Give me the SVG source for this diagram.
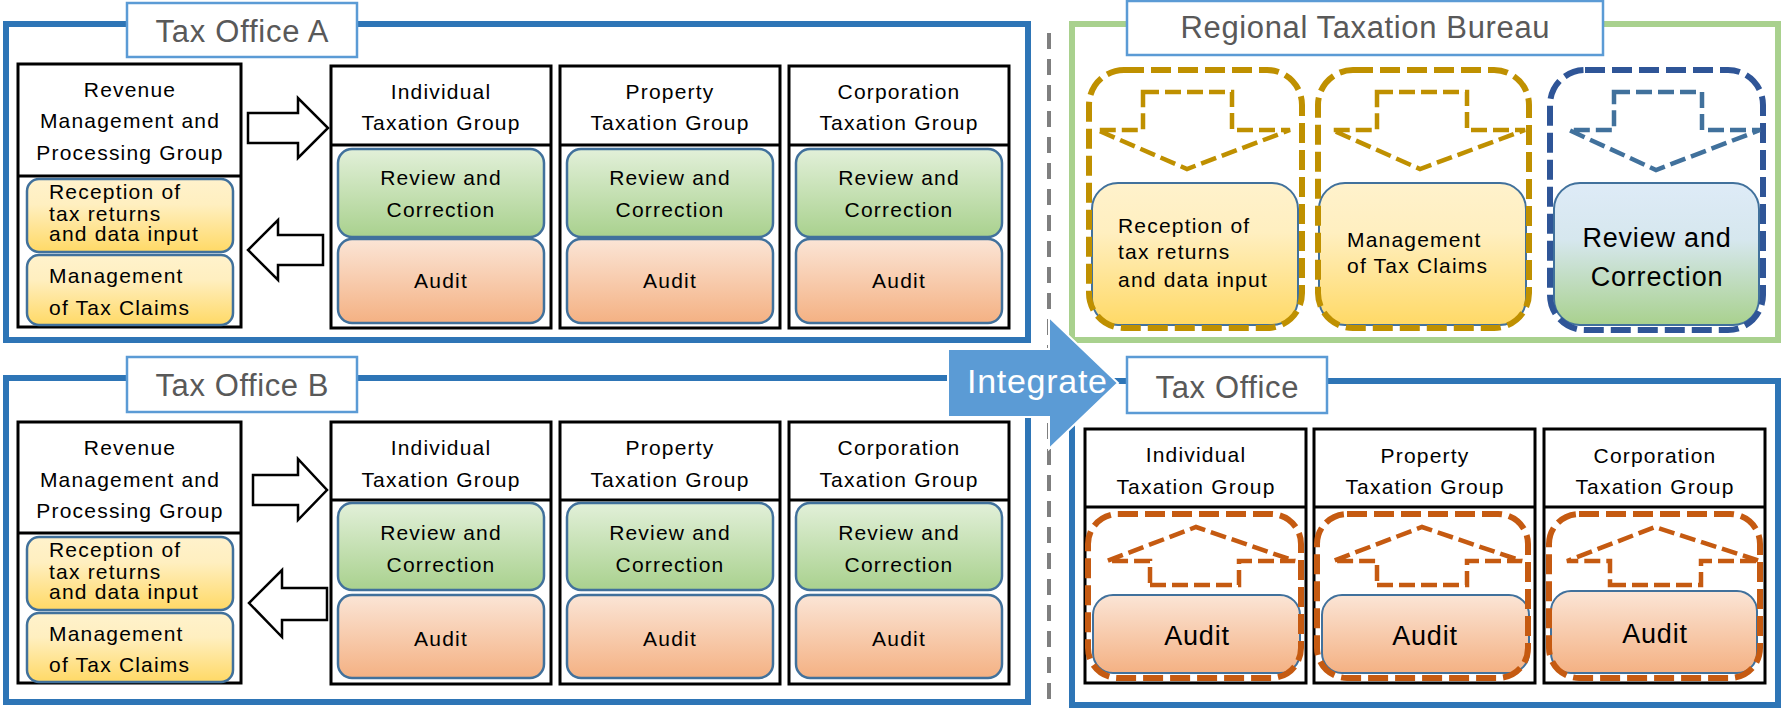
<svg xmlns="http://www.w3.org/2000/svg" width="1787" height="709" viewBox="0 0 1787 709">
<defs>
<linearGradient id="gY" x1="0" y1="0" x2="0" y2="1"><stop offset="0" stop-color="#FFF2CC"/><stop offset="0.35" stop-color="#FFEFC0"/><stop offset="1" stop-color="#FFD966"/></linearGradient>
<linearGradient id="gG" x1="0" y1="0" x2="0" y2="1"><stop offset="0" stop-color="#E2F0D9"/><stop offset="1" stop-color="#A9D18E"/></linearGradient>
<linearGradient id="gO" x1="0" y1="0" x2="0" y2="1"><stop offset="0" stop-color="#FBE5D6"/><stop offset="1" stop-color="#F4B183"/></linearGradient>
<linearGradient id="gBG" x1="0" y1="0" x2="0" y2="1"><stop offset="0" stop-color="#DEEBF7"/><stop offset="0.4" stop-color="#D6E7EE"/><stop offset="1" stop-color="#A9D18E"/></linearGradient>
<style>
.frame{fill:none;stroke:#2E75B6;stroke-width:6}
.gframe{fill:none;stroke:#A9D18E;stroke-width:6}
.title{fill:#fff;stroke:#5B9BD5;stroke-width:2.5}
.tt{font-family:"Liberation Sans",Arial,sans-serif;font-size:31px;fill:#595959;text-anchor:middle}
.box{fill:#fff;stroke:#000;stroke-width:3}
.div{stroke:#000;stroke-width:3}
.t{font-family:"Liberation Sans",Arial,sans-serif;font-size:21px;fill:#000;letter-spacing:1.2px}
.c{text-anchor:middle}
.big{font-size:27px;letter-spacing:0.8px}
.sub{stroke:#41719C;stroke-width:2.5}
.sub2{stroke:#41719C;stroke-width:2}
.hollow{fill:#fff;stroke:#000;stroke-width:2.5}
.dgold{fill:none;stroke:#BF9000;stroke-width:6;stroke-dasharray:20 7}
.agold{fill:none;stroke:#BF9000;stroke-width:4.5;stroke-dasharray:16 6}
.dnavy{fill:none;stroke:#2F5597;stroke-width:6;stroke-dasharray:20 7}
.asteel{fill:none;stroke:#41719C;stroke-width:4.5;stroke-dasharray:16 6}
.dorg{fill:none;stroke:#C55A11;stroke-width:6;stroke-dasharray:20 7}
.aorg{fill:none;stroke:#C55A11;stroke-width:4.5;stroke-dasharray:16 6}
</style>
</defs>
<rect x="0" y="0" width="1787" height="709" fill="#fff"/>

<!-- Tax Office A -->
<g id="tax-office-a">
<rect class="frame" x="6" y="24" width="1022" height="316"/>
<rect class="title" x="127" y="3" width="230" height="54"/>
<text class="tt" x="242" y="42" textLength="173" lengthAdjust="spacing">Tax Office A</text>
<g id="a-revenue">
<rect class="box" x="18" y="64" width="223" height="263"/>
<line class="div" x1="18" y1="176" x2="241" y2="176"/>
<text class="t c" x="130"><tspan x="130" y="97">Revenue</tspan><tspan x="130" y="128">Management and</tspan><tspan x="130" y="160">Processing Group</tspan></text>
<rect class="sub" x="27" y="179" width="206" height="73" rx="12" fill="url(#gY)"/>
<text class="t"><tspan x="49" y="199">Reception of</tspan><tspan x="49" y="221">tax returns</tspan><tspan x="49" y="241">and data input</tspan></text>
<rect class="sub" x="27" y="255" width="206" height="70" rx="12" fill="url(#gY)"/>
<text class="t"><tspan x="49" y="283">Management</tspan><tspan x="49" y="315">of Tax Claims</tspan></text>
</g>
<g id="a-individual">
<rect class="box" x="331" y="66" width="220" height="262"/>
<line class="div" x1="331" y1="145" x2="551" y2="145"/>
<text class="t c"><tspan x="441" y="99">Individual</tspan><tspan x="441" y="130">Taxation Group</tspan></text>
<rect class="sub" x="338" y="149" width="206" height="88" rx="14" fill="url(#gG)"/>
<text class="t c"><tspan x="441" y="185">Review and</tspan><tspan x="441" y="217">Correction</tspan></text>
<rect class="sub" x="338" y="239" width="206" height="84" rx="14" fill="url(#gO)"/>
<text class="t c" x="441" y="288">Audit</text>
</g>
<g id="a-property">
<rect class="box" x="560" y="66" width="220" height="262"/>
<line class="div" x1="560" y1="145" x2="780" y2="145"/>
<text class="t c"><tspan x="670" y="99">Property</tspan><tspan x="670" y="130">Taxation Group</tspan></text>
<rect class="sub" x="567" y="149" width="206" height="88" rx="14" fill="url(#gG)"/>
<text class="t c"><tspan x="670" y="185">Review and</tspan><tspan x="670" y="217">Correction</tspan></text>
<rect class="sub" x="567" y="239" width="206" height="84" rx="14" fill="url(#gO)"/>
<text class="t c" x="670" y="288">Audit</text>
</g>
<g id="a-corporation">
<rect class="box" x="789" y="66" width="220" height="262"/>
<line class="div" x1="789" y1="145" x2="1009" y2="145"/>
<text class="t c"><tspan x="899" y="99">Corporation</tspan><tspan x="899" y="130">Taxation Group</tspan></text>
<rect class="sub" x="796" y="149" width="206" height="88" rx="14" fill="url(#gG)"/>
<text class="t c"><tspan x="899" y="185">Review and</tspan><tspan x="899" y="217">Correction</tspan></text>
<rect class="sub" x="796" y="239" width="206" height="84" rx="14" fill="url(#gO)"/>
<text class="t c" x="899" y="288">Audit</text>
</g>
</g>

<!-- Tax Office B -->
<g id="tax-office-b">
<rect class="frame" x="6" y="378" width="1022" height="324"/>
<rect class="title" x="127" y="357" width="230" height="55"/>
<text class="tt" x="242" y="396" textLength="173" lengthAdjust="spacing">Tax Office B</text>
<g transform="translate(0,356)">
<g id="b-revenue">
<rect class="box" x="18" y="66" width="223" height="261"/>
<line class="div" x1="18" y1="177" x2="241" y2="177"/>
<text class="t c"><tspan x="130" y="99">Revenue</tspan><tspan x="130" y="131">Management and</tspan><tspan x="130" y="162">Processing Group</tspan></text>
<rect class="sub" x="27" y="181" width="206" height="73" rx="12" fill="url(#gY)"/>
<text class="t"><tspan x="49" y="201">Reception of</tspan><tspan x="49" y="223">tax returns</tspan><tspan x="49" y="243">and data input</tspan></text>
<rect class="sub" x="27" y="257" width="206" height="69" rx="12" fill="url(#gY)"/>
<text class="t"><tspan x="49" y="285">Management</tspan><tspan x="49" y="316">of Tax Claims</tspan></text>
</g>
<g id="b-individual">
<rect class="box" x="331" y="66" width="220" height="262"/>
<line class="div" x1="331" y1="144" x2="551" y2="144"/>
<text class="t c"><tspan x="441" y="99">Individual</tspan><tspan x="441" y="131">Taxation Group</tspan></text>
<rect class="sub" x="338" y="147" width="206" height="87" rx="14" fill="url(#gG)"/>
<text class="t c"><tspan x="441" y="184">Review and</tspan><tspan x="441" y="216">Correction</tspan></text>
<rect class="sub" x="338" y="239" width="206" height="83" rx="14" fill="url(#gO)"/>
<text class="t c" x="441" y="290">Audit</text>
</g>
<g id="b-property">
<rect class="box" x="560" y="66" width="220" height="262"/>
<line class="div" x1="560" y1="144" x2="780" y2="144"/>
<text class="t c"><tspan x="670" y="99">Property</tspan><tspan x="670" y="131">Taxation Group</tspan></text>
<rect class="sub" x="567" y="147" width="206" height="87" rx="14" fill="url(#gG)"/>
<text class="t c"><tspan x="670" y="184">Review and</tspan><tspan x="670" y="216">Correction</tspan></text>
<rect class="sub" x="567" y="239" width="206" height="83" rx="14" fill="url(#gO)"/>
<text class="t c" x="670" y="290">Audit</text>
</g>
<g id="b-corporation">
<rect class="box" x="789" y="66" width="220" height="262"/>
<line class="div" x1="789" y1="144" x2="1009" y2="144"/>
<text class="t c"><tspan x="899" y="99">Corporation</tspan><tspan x="899" y="131">Taxation Group</tspan></text>
<rect class="sub" x="796" y="147" width="206" height="87" rx="14" fill="url(#gG)"/>
<text class="t c"><tspan x="899" y="184">Review and</tspan><tspan x="899" y="216">Correction</tspan></text>
<rect class="sub" x="796" y="239" width="206" height="83" rx="14" fill="url(#gO)"/>
<text class="t c" x="899" y="290">Audit</text>
</g>
</g>
</g>

<!-- divider -->
<line x1="1049" y1="33" x2="1049" y2="709" stroke="#7F7F7F" stroke-width="4" stroke-dasharray="16 10"/>

<!-- Regional Taxation Bureau -->
<g id="regional-bureau">
<rect class="gframe" x="1072" y="24" width="706" height="316"/>
<rect class="title" x="1127" y="1" width="476" height="54"/>
<text class="tt" x="1365" y="38" textLength="369" lengthAdjust="spacing">Regional Taxation Bureau</text>
<g id="rb-reception">
<rect class="sub2" x="1092" y="183" width="206" height="142" rx="26" fill="url(#gY)"/>
<rect class="dgold" x="1089" y="70" width="213" height="258" rx="35"/>
<polygon class="agold" points="1143,92 1232,92 1232,130 1290,130 1187,169 1097,130 1143,130"/>
<text class="t"><tspan x="1118" y="233">Reception of</tspan><tspan x="1118" y="259">tax returns</tspan><tspan x="1118" y="287">and data input</tspan></text>
</g>
<g id="rb-claims">
<rect class="sub2" x="1319" y="183" width="207" height="142" rx="26" fill="url(#gY)"/>
<rect class="dgold" x="1318" y="70" width="211" height="258" rx="35"/>
<polygon class="agold" points="1377,92 1467,92 1467,130 1525,130 1420,169 1332,130 1377,130"/>
<text class="t"><tspan x="1347" y="247">Management</tspan><tspan x="1347" y="273">of Tax Claims</tspan></text>
</g>
<g id="rb-review">
<rect class="sub2" x="1554" y="183" width="205" height="142" rx="26" fill="url(#gBG)"/>
<rect class="dnavy" x="1550" y="70" width="213" height="260" rx="35"/>
<polygon class="asteel" points="1614,92 1702,92 1702,130 1760,130 1656,170 1569,130 1614,130"/>
<text class="t c big"><tspan x="1657" y="247">Review and</tspan><tspan x="1657" y="286">Correction</tspan></text>
</g>
</g>

<!-- New Tax Office -->
<g id="tax-office">
<rect class="frame" x="1072" y="381" width="706" height="324"/>
<rect class="title" x="1127" y="357" width="200" height="56"/>
<text class="tt" x="1227" y="398" textLength="143" lengthAdjust="spacing">Tax Office</text>
<g id="to-individual">
<rect class="box" x="1085" y="429" width="221" height="254"/>
<line class="div" x1="1085" y1="507" x2="1306" y2="507"/>
<text class="t c"><tspan x="1196" y="462">Individual</tspan><tspan x="1196" y="494">Taxation Group</tspan></text>
<rect class="sub2" x="1093" y="595" width="207" height="78" rx="20" fill="url(#gO)"/>
<rect class="dorg" x="1088" y="514" width="213" height="164" rx="30"/>
<polygon class="aorg" points="1150,585 1239,585 1239,561 1295,561 1196,527 1107,561 1150,561"/>
<text class="t c big" x="1197" y="645">Audit</text>
</g>
<g id="to-property">
<rect class="box" x="1314" y="429" width="221" height="254"/>
<line class="div" x1="1314" y1="507" x2="1535" y2="507"/>
<text class="t c"><tspan x="1425" y="463">Property</tspan><tspan x="1425" y="494">Taxation Group</tspan></text>
<rect class="sub2" x="1322" y="595" width="207" height="78" rx="20" fill="url(#gO)"/>
<rect class="dorg" x="1317" y="514" width="211" height="164" rx="30"/>
<polygon class="aorg" points="1377,585 1467,585 1467,561 1522,561 1422,527 1333,561 1377,561"/>
<text class="t c big" x="1425" y="645">Audit</text>
</g>
<g id="to-corporation">
<rect class="box" x="1544" y="429" width="221" height="254"/>
<line class="div" x1="1544" y1="507" x2="1765" y2="507"/>
<text class="t c"><tspan x="1655" y="463">Corporation</tspan><tspan x="1655" y="494">Taxation Group</tspan></text>
<rect class="sub2" x="1551" y="591" width="206" height="82" rx="20" fill="url(#gO)"/>
<rect class="dorg" x="1549" y="514" width="211" height="164" rx="30"/>
<polygon class="aorg" points="1610,585 1701,585 1701,561 1760,561 1655,527 1567,561 1610,561"/>
<text class="t c big" x="1655" y="643">Audit</text>
</g>
</g>

<!-- connectors -->
<g id="connectors">
<polygon class="hollow" points="248,113 298,113 298,98 328,128 298,158 298,143 248,143"/>
<polygon class="hollow" points="323,235 278,235 278,220 248,250 278,280 278,265 323,265"/>
<polygon class="hollow" points="253,475 298,475 298,459 327,490 298,520 298,505 253,505"/>
<polygon class="hollow" points="327,588 282,588 282,570 249,603 282,637 282,620 327,620"/>
<g id="integrate">
<polygon points="948,349 1049,349 1049,317 1118,383 1049,449 1049,417 948,417" fill="#5B9BD5" stroke="#fff" stroke-width="2"/>
<text x="967" y="393" font-family="Liberation Sans, Arial, sans-serif" font-size="34" fill="#fff" textLength="140" lengthAdjust="spacing">Integrate</text>
</g>
</g>
</svg>
